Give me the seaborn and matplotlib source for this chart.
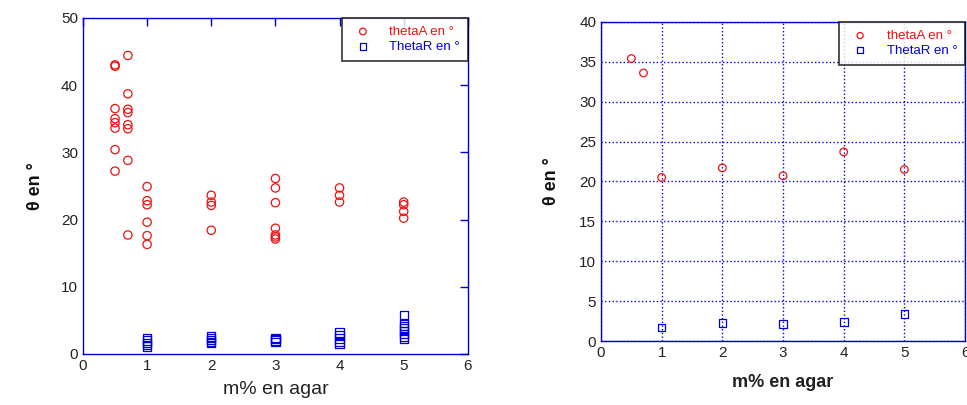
import numpy as np
import pandas as pd
import matplotlib
matplotlib.use("Agg")
import matplotlib.pyplot as plt
import seaborn as sns

# left panel: all measurements
xa_all = [0.5] * 8 + [0.7] * 8 + [1] * 6 + [2] * 4 + [3] * 7 + [4] * 3 + [5] * 4
thetaA_all = [43.0, 42.8, 36.5, 35.0, 34.4, 33.6, 30.4, 27.2,
              44.4, 38.7, 36.4, 35.9, 34.1, 33.5, 28.8, 17.7,
              24.9, 22.8, 22.2, 19.6, 17.6, 16.3,
              23.6, 22.6, 22.1, 18.4,
              26.1, 24.7, 22.5, 18.7, 17.7, 17.4, 17.1,
              24.7, 23.6, 22.6,
              22.6, 22.2, 21.2, 20.2]
xr_all = [1] * 5 + [2] * 5 + [3] * 4 + [4] * 5 + [5] * 8
thetaR_all = [2.4, 2.0, 1.6, 1.3, 1.1,
              2.6, 2.4, 2.1, 1.8, 1.6,
              2.4, 2.2, 2.0, 1.8,
              3.2, 2.8, 2.3, 1.8, 1.5,
              5.7, 4.6, 4.2, 3.8, 3.4, 3.0, 2.6, 2.3]

# right panel: means
xa_mean = [0.5, 0.7, 1, 2, 3, 4, 5]
thetaA_mean = [35.4, 33.6, 20.5, 21.7, 20.7, 23.7, 21.5]
xr_mean = [1, 2, 3, 4, 5]
thetaR_mean = [1.7, 2.25, 2.1, 2.4, 3.4]

labels = ["thetaA en °", "ThetaR en °"]

sns.set_style("white")
plt.rcParams["font.family"] = ["Liberation Sans", "DejaVu Sans"]

fig = plt.figure(figsize=(9.67, 4.05), dpi=100)
ax1 = fig.add_axes([0.0858, 0.126, 0.398, 0.830])
ax2 = fig.add_axes([0.6215, 0.158, 0.3765, 0.788])

blue = "#0000dd"
red = "#ee1111"


def draw(ax, xa, ya, xr, yr, size):
    dfa = pd.DataFrame({"x": xa, "y": ya})
    dfr = pd.DataFrame({"x": xr, "y": yr})
    sns.scatterplot(data=dfa, x="x", y="y", ax=ax, marker="o", s=size,
                    facecolors="none", edgecolor=red, linewidth=0.9,
                    label=labels[0], zorder=3)
    sns.scatterplot(data=dfr, x="x", y="y", ax=ax, marker="s", s=size,
                    facecolors="none", edgecolor=blue, linewidth=0.9,
                    label=labels[1], zorder=3)
    for sp in ax.spines.values():
        sp.set_color(blue)
        sp.set_linewidth(1.0)
    ax.tick_params(direction="in", colors=blue, labelcolor="#222222",
                   top=True, right=True, length=6, width=1, labelsize=11)
    leg = ax.legend(loc="upper right", frameon=True, fancybox=False,
                    fontsize=9.5, borderaxespad=0, handletextpad=1.0,
                    borderpad=0.6, labelspacing=0.2, markerscale=0.8)
    leg.get_frame().set_edgecolor("black")
    leg.get_frame().set_linewidth(1.2)
    for t, c in zip(leg.get_texts(), [red, blue]):
        t.set_color(c)


draw(ax1, xa_all, thetaA_all, xr_all, thetaR_all, 36)
ax1.set_xlim(0, 6)
ax1.set_ylim(0, 50)
ax1.set_xticks(range(0, 7))
ax1.set_yticks(range(0, 51, 10))
ax1.set_xlabel("m% en agar", fontsize=14, color="#222222", labelpad=6)
ax1.set_ylabel("θ en °", fontsize=13, fontweight="bold", color="#111111", labelpad=12)

draw(ax2, xa_mean, thetaA_mean, xr_mean, thetaR_mean, 30)
ax2.set_xlim(0, 6)
ax2.set_ylim(0, 40)
ax2.set_xticks(range(0, 7))
ax2.set_yticks(range(0, 41, 5))
ax2.grid(True, color=blue, linestyle=":", linewidth=1.0)
ax2.set_axisbelow(True)
ax2.tick_params(length=0)
ax2.set_xlabel("m% en agar", fontsize=13, fontweight="bold", color="#222222", labelpad=10)
ax2.set_ylabel("θ en °", fontsize=13, fontweight="bold", color="#111111", labelpad=14)

fig.savefig("out.png", dpi=100)
